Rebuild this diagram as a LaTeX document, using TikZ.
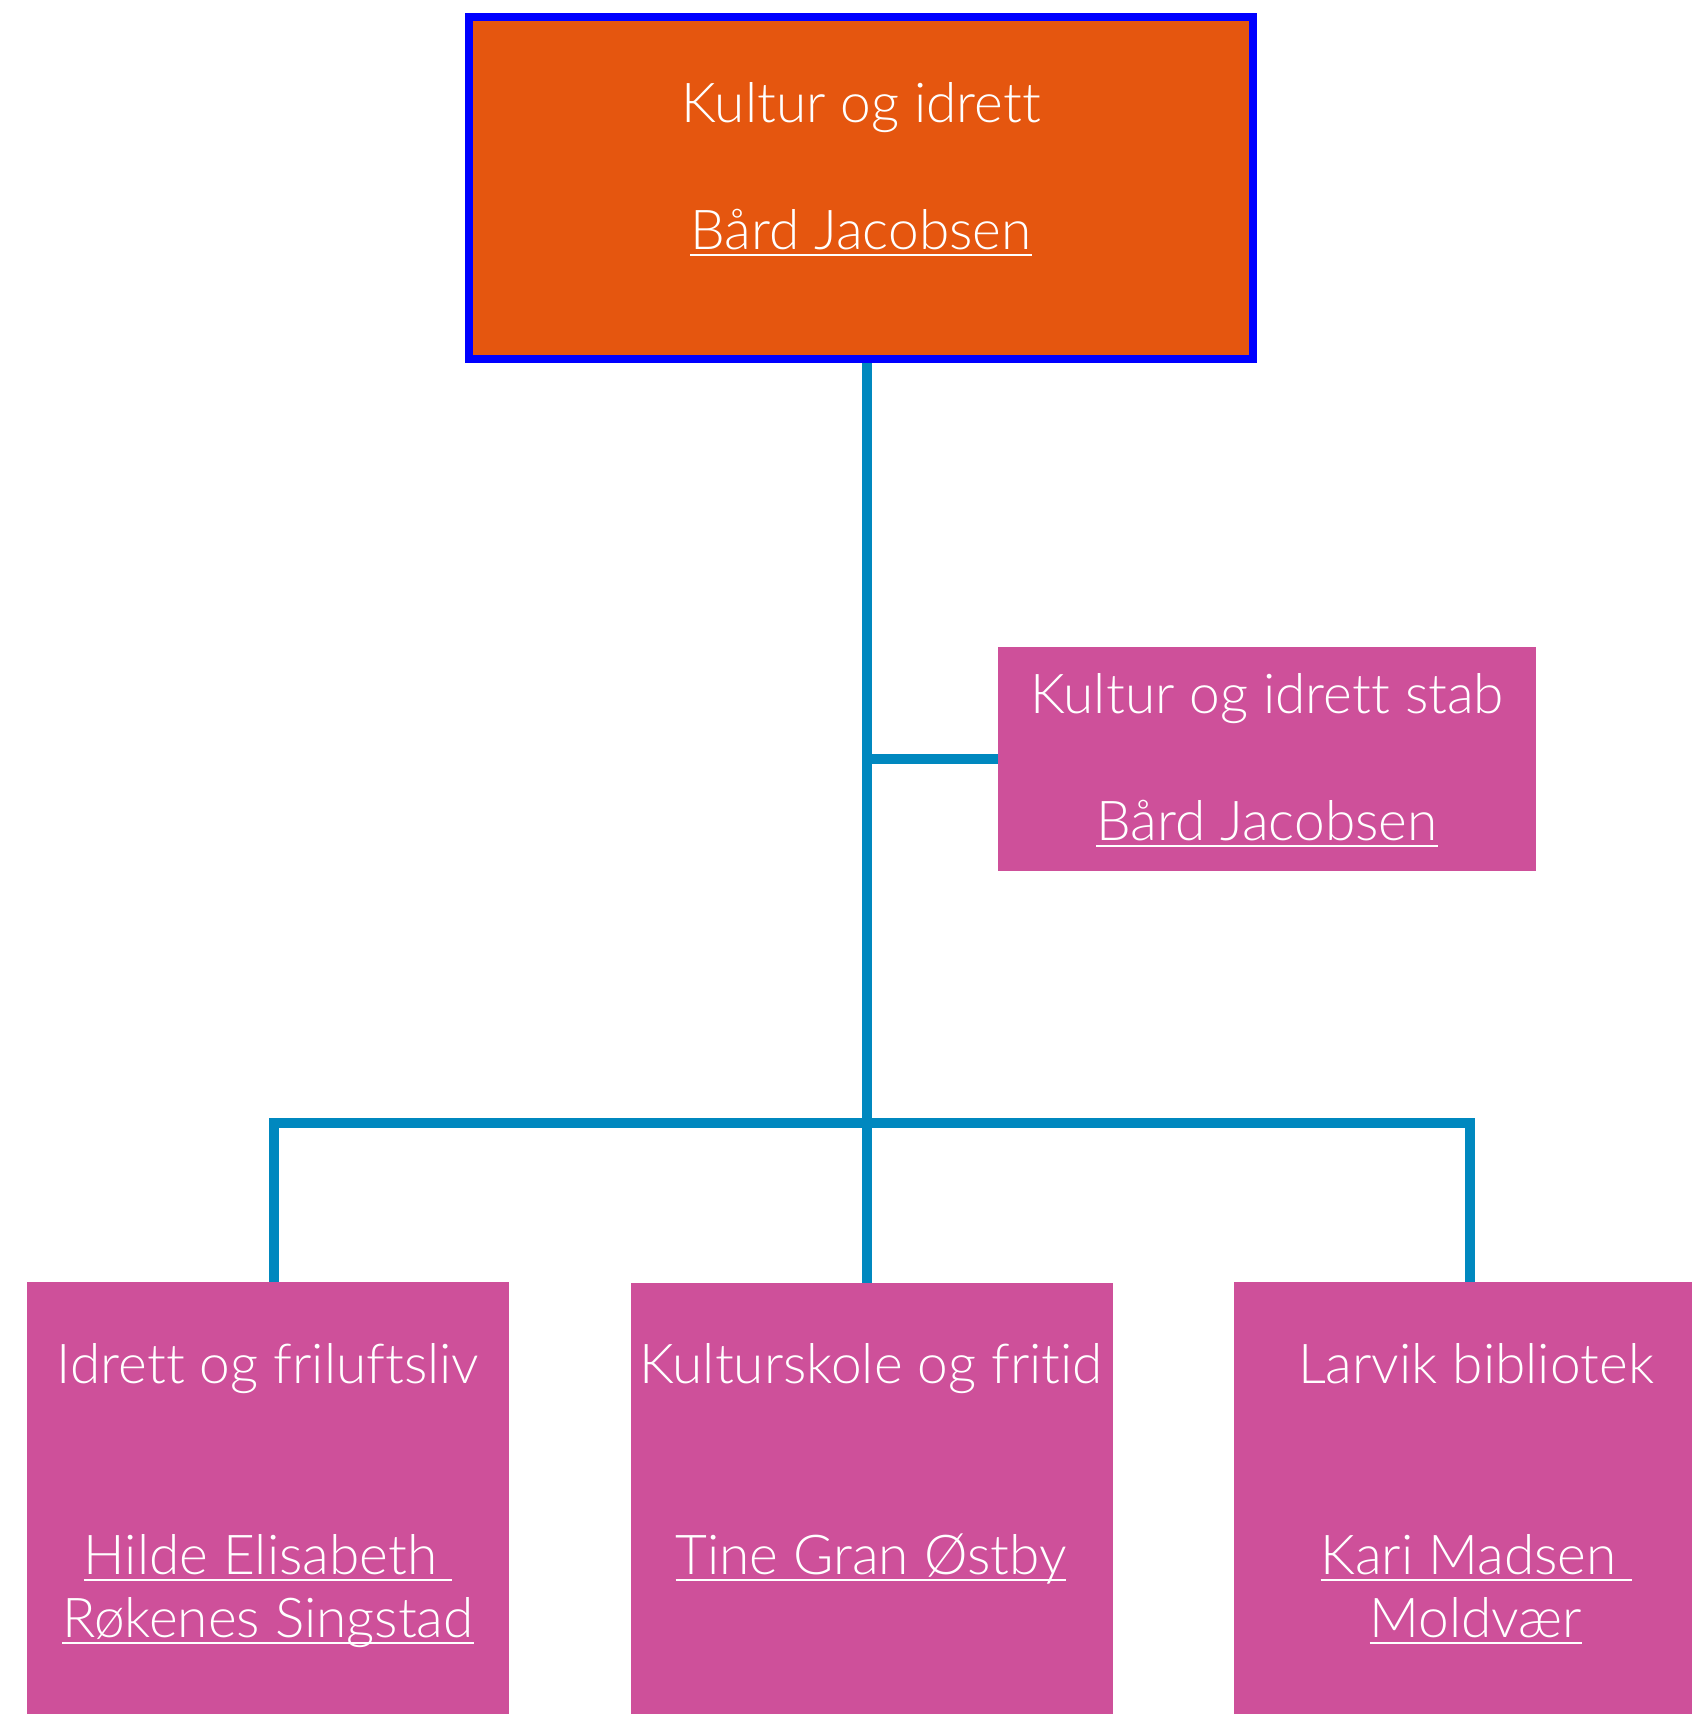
\documentclass[tikz,border=0pt]{standalone}
\usepackage{fontspec}
\setmainfont{Lato Light}[Ligatures=NoCommon]
\usepackage{tikz}
\usetikzlibrary{positioning}
\definecolor{orangebox}{RGB}{229,86,15}
\definecolor{pinkbox}{RGB}{206,80,154}
\definecolor{linkblue}{RGB}{0,136,191}
\newcommand{\undl}[1]{\setbox0\hbox{#1}\rlap{\rule[-7pt]{\wd0}{2.5pt}}\box0}

\begin{document}
\begin{tikzpicture}[x=1pt,y=-1pt,
  unitbox/.style={rectangle,fill=pinkbox,inner sep=0pt,minimum width=482pt,minimum height=479pt},
  txt/.style={text=white,anchor=base,align=center,inner sep=0pt,font=\fontsize{55}{63}\selectfont},
  conn/.style={draw=linkblue,line width=10.5pt}]
\useasboundingbox (0,0) rectangle (1692,1714);
\clip (0,0) rectangle (1692,1714);

\node (top)[rectangle,fill=orangebox,draw=blue,line width=8pt,inner sep=0pt,minimum width=784pt,minimum height=342pt] at (861,188) {};
\node (stab)[rectangle,fill=pinkbox,inner sep=0pt,minimum width=538pt,minimum height=224pt] at (1267,759) {};
\node (idrett)[unitbox] at (268,1521.5) {};
\node (kulturskole)[unitbox] at (872,1522.5) {};
\node (bibliotek)[unitbox] at (1475,1521.5) {};

\node (toptitle)[txt] at (861,122) {Kultur og idrett};
\node (topname)[txt] at (861,249) {\undl{Bård Jacobsen}};
\node (stabtitle)[txt] at (1267,713) {Kultur og idrett stab};
\node (stabname)[txt] at (1267,840) {\undl{Bård Jacobsen}};
\node (idretttitle)[txt] at (268,1383) {Idrett og friluftsliv};
\node (idrettname)[txt] at (268,1637) {\undl{Hilde Elisabeth\ }\\\undl{Røkenes Singstad}};
\node (kulturtitle)[txt] at (871,1383) {Kulturskole og fritid};
\node (kulturname)[txt] at (871,1574) {\undl{Tine Gran Østby}};
\node (bibliotektitle)[txt] at (1476,1383) {Larvik bibliotek};
\node (bibliotekname)[txt] at (1476,1637) {\undl{Kari Madsen\ }\\\undl{Moldvær}};

\coordinate (hub) at (867,1123);
\coordinate (leftdrop) at (274,1123);
\coordinate (rightdrop) at (1470,1123);
\draw[conn] (top.south -| hub) -- (hub);
\draw[conn] (hub) -- (hub |- kulturskole.north);
\draw[conn] (stab.west) -- (stab.west -| hub);
\draw[conn] (idrett.north -| leftdrop) |- (hub) -| (bibliotek.north -| rightdrop);
\end{tikzpicture}
\end{document}
